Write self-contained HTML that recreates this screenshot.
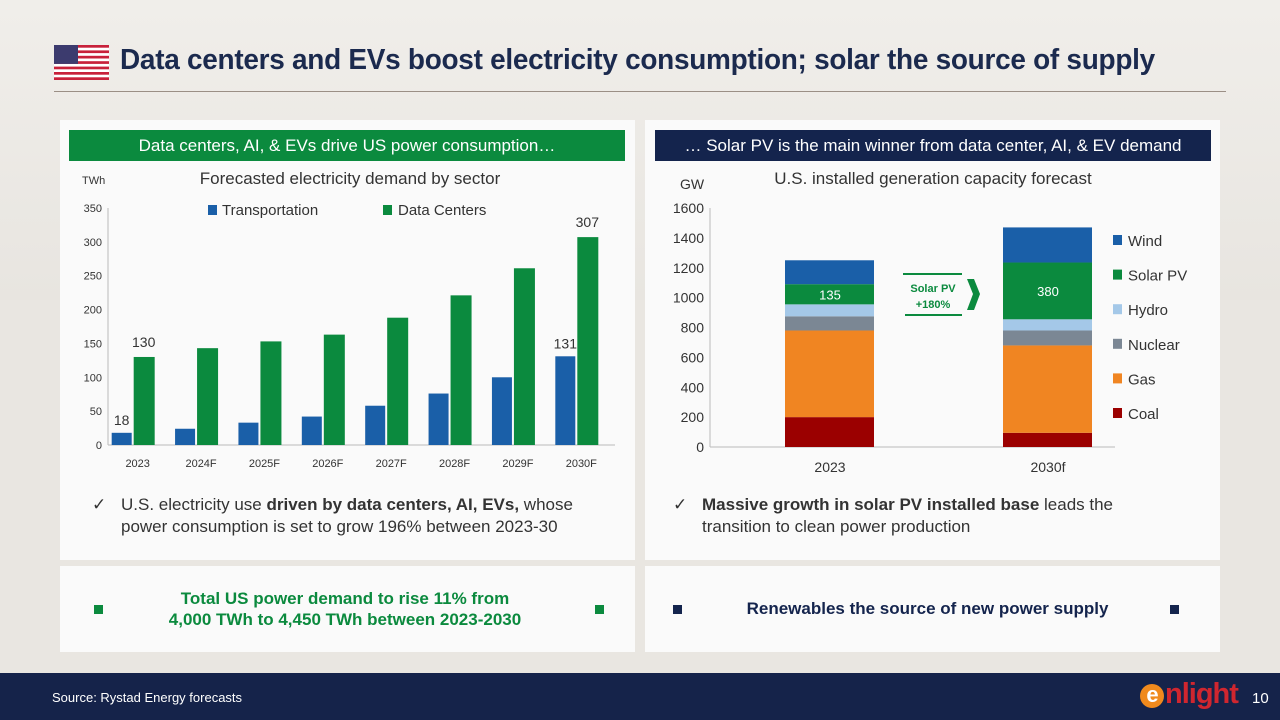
<!DOCTYPE html>
<html><head><meta charset="utf-8"><style>
body{margin:0;width:1280px;height:720px;overflow:hidden;font-family:"Liberation Sans",sans-serif;background:#e9e6e1;position:relative}
.abs{position:absolute}
.panel{position:absolute;background:#fafafa}
.title{left:120px;top:44px;font-size:29px;color:#1b2a4e;font-weight:bold;letter-spacing:-0.3px;transform:scaleX(.965);transform-origin:left;white-space:nowrap}
.hdr{position:absolute;height:31px;line-height:31px;color:#fff;font-size:17px;text-align:center}
.bullet{position:absolute;font-size:17px;color:#333;line-height:22px}
.bt{position:absolute;font-size:17px;font-weight:bold;text-align:center;line-height:21px}
.sq{position:absolute;width:9px;height:9px}
</style></head><body>
<div class="abs" style="left:0;top:0;width:1280px;height:300px;background:linear-gradient(#f0eeea,#e8e5e0)"></div>
<svg class="abs" style="left:54px;top:45px" width="55" height="35" viewBox="0 0 55 35">
<rect width="55" height="35" fill="#fff"/>
<g fill="#c8213a"><rect y="0" width="55" height="2.7"/><rect y="5.4" width="55" height="2.7"/><rect y="10.8" width="55" height="2.7"/><rect y="16.2" width="55" height="2.7"/><rect y="21.6" width="55" height="2.7"/><rect y="27" width="55" height="2.7"/><rect y="32.3" width="55" height="2.7"/></g>
<rect width="24" height="18.9" fill="#3c3b6e"/></svg>
<div class="abs title">Data centers and EVs boost electricity consumption; solar the source of supply</div>
<div class="abs" style="left:54px;top:91px;width:1172px;height:1px;background:#9b8f86"></div>

<div class="panel" style="left:60px;top:120px;width:575px;height:440px"></div>
<div class="panel" style="left:645px;top:120px;width:575px;height:440px"></div>
<div class="panel" style="left:60px;top:566px;width:575px;height:86px"></div>
<div class="panel" style="left:645px;top:566px;width:575px;height:86px"></div>

<div class="hdr" style="left:69px;top:130px;width:556px;background:#0b8a3e">Data centers, AI, &amp; EVs drive US power consumption…</div>
<div class="hdr" style="left:655px;top:130px;width:556px;background:#14244d">… Solar PV is the main winner from data center, AI, &amp; EV demand</div>

<svg class="abs" id="lc" style="left:60px;top:160px" width="575" height="320"></svg>
<svg class="abs" id="rc" style="left:645px;top:160px" width="575" height="320"></svg>

<div class="bullet" style="left:95px;top:494px;width:520px"><span style="position:absolute;left:-3px">✓</span><div style="margin-left:26px">U.S. electricity use <b>driven by data centers, AI, EVs,</b> whose power consumption is set to grow 196% between 2023-30</div></div>
<div class="bullet" style="left:674px;top:494px;width:470px"><span style="position:absolute;left:-1px">✓</span><div style="margin-left:28px"><b>Massive growth in solar PV installed base</b> leads the transition to clean power production</div></div>

<div class="sq" style="left:94px;top:605px;background:#0b8a3e"></div>
<div class="bt" style="left:130px;top:588px;width:430px;color:#0b8a3e">Total US power demand to rise 11% from<br>4,000 TWh to 4,450 TWh between 2023-2030</div>
<div class="sq" style="left:595px;top:605px;background:#0b8a3e"></div>
<div class="sq" style="left:673px;top:605px;background:#14244d"></div>
<div class="bt" style="left:700px;top:598px;width:455px;color:#14244d">Renewables the source of new power supply</div>
<div class="sq" style="left:1170px;top:605px;background:#14244d"></div>

<div class="abs" style="left:0;top:673px;width:1280px;height:47px;background:#15234a"></div>
<div class="abs" style="left:52px;top:690px;font-size:13px;color:#fff">Source: Rystad Energy forecasts</div>
<div class="abs" style="left:1140px;top:677px;font-size:29px;font-weight:bold;color:#d0262f;letter-spacing:-1px;line-height:34px"><span style="display:inline-block;width:24px;height:24px;border-radius:50%;background:#f08a1d;color:#fff;font-size:22px;line-height:22px;text-align:center;vertical-align:1px;margin-right:1px">e</span>nlight</div>
<div class="abs" style="left:1252px;top:690px;font-size:15px;color:#fff">10</div>

<script>
const NS='http://www.w3.org/2000/svg';
function mk(p,t,a,txt){const e=document.createElementNS(NS,t);for(const k in a)e.setAttribute(k,a[k]);if(txt!==undefined)e.textContent=txt;p.appendChild(e);return e;}
// Left chart data
const years=['2023','2024F','2025F','2026F','2027F','2028F','2029F','2030F'];
const transport=[18,24,33,42,58,76,100,131];
const dataCenters=[130,143,153,163,188,221,261,307];
const leftTicks=[0,50,100,150,200,250,300,350];
const transportLabels={0:'18',7:'131'};
const dcLabels={0:'130',7:'307'};
// Right chart data
const periods=['2023','2030f'];
const sources=['Coal','Gas','Nuclear','Hydro','Solar PV','Wind'];
const colors=['#9b0000','#f08522','#7b8794','#a4c8e8','#0b8a3e','#1a5fa8'];
const cap2023=[200,580,95,80,135,160];
const cap2030=[95,585,100,75,380,235];
const rightTicks=[0,200,400,600,800,1000,1200,1400,1600];

(function(){
const s=document.getElementById('lc');
const x0=48,x1=555,y0=285,yT=48;
const y=v=>y0-(y0-yT)*v/350;
const bw=(x1-x0)/years.length;
mk(s,'text',{x:22,y:24,'font-size':11,fill:'#333'},'TWh');
mk(s,'text',{x:290,y:24,'font-size':17,fill:'#333','text-anchor':'middle'},'Forecasted electricity demand by sector');
mk(s,'line',{x1:x0,y1:yT,x2:x0,y2:y0,stroke:'#bbb'});
mk(s,'line',{x1:x0,y1:y0,x2:x1,y2:y0,stroke:'#bbb'});
leftTicks.forEach(t=>{const e=mk(s,'text',{x:42,y:y(t)+4,'font-size':11,fill:'#333','text-anchor':'end'},t);});
let r=mk(s,'rect',{x:148,y:45,width:9,height:10,fill:'#1a5fa8'});
mk(s,'text',{x:162,y:55,'font-size':15,fill:'#333'},'Transportation');
r=mk(s,'rect',{x:323,y:45,width:9,height:10,fill:'#0b8a3e'});
mk(s,'text',{x:338,y:55,'font-size':15,fill:'#333'},'Data Centers');
years.forEach((yr,i)=>{
 const c=x0+bw*(i+0.5);
 let b=mk(s,'rect',{x:c-28,y:y(transport[i]),width:20,height:y0-y(transport[i]),fill:'#1a5fa8'});
 
 b=mk(s,'rect',{x:c-6,y:y(dataCenters[i]),width:21,height:y0-y(dataCenters[i]),fill:'#0b8a3e'});
 
 const l=mk(s,'text',{x:c-2,y:307,'font-size':11,fill:'#333','text-anchor':'middle'},yr);
 
 if(transportLabels[i])mk(s,'text',{x:c-18,y:y(transport[i])-8,'font-size':14,fill:'#333','text-anchor':'middle'},transportLabels[i]);
 if(dcLabels[i])mk(s,'text',{x:c+4,y:y(dataCenters[i])-10,'font-size':14,fill:'#333','text-anchor':'middle'},dcLabels[i]);
});
})();

(function(){
const s=document.getElementById('rc');
const x0=65,x1=470,y0=287,yT=48;
const y=v=>y0-(y0-yT)*v/1600;
mk(s,'text',{x:35,y:29,'font-size':14,fill:'#333'},'GW');
mk(s,'text',{x:288,y:24,'font-size':17,fill:'#333','text-anchor':'middle'},'U.S. installed generation capacity forecast');
mk(s,'line',{x1:x0,y1:yT,x2:x0,y2:y0,stroke:'#bbb'});
mk(s,'line',{x1:x0,y1:y0,x2:x1,y2:y0,stroke:'#bbb'});
rightTicks.forEach(t=>{const e=mk(s,'text',{x:59,y:y(t)+5,'font-size':14,fill:'#333','text-anchor':'end'},t);});
const centers=[185,403];
[cap2023,cap2030].forEach((vals,i)=>{
 let acc=0;
 vals.forEach((v,j)=>{
  const b=mk(s,'rect',{x:centers[i]-45,y:y(acc+v),width:89,height:y(acc)-y(acc+v),fill:colors[j]});
  
  
  if(sources[j]==='Solar PV')mk(s,'text',{x:centers[i],y:(y(acc)+y(acc+v))/2+5,'font-size':13,fill:'#fff','text-anchor':'middle'},v);
  acc+=v;
 });
 const l=mk(s,'text',{x:centers[i],y:312,'font-size':14,fill:'#333','text-anchor':'middle'},periods[i]);
 
});
sources.forEach((src,j)=>{
 const ly=255-j*34.6;
 const r=mk(s,'rect',{x:468,y:ly-7,width:9,height:10,fill:colors[j]});
 
 
 mk(s,'text',{x:483,y:ly+4,'font-size':15,fill:'#333'},src);
});
mk(s,'line',{x1:258,y1:114,x2:317,y2:114,stroke:'#0b8a3e','stroke-width':2});
mk(s,'line',{x1:260,y1:155,x2:317,y2:155,stroke:'#0b8a3e','stroke-width':2});
mk(s,'text',{x:288,y:132,'font-size':11,'font-weight':'bold',fill:'#0b8a3e','text-anchor':'middle'},'Solar PV');
mk(s,'text',{x:288,y:148,'font-size':11,'font-weight':'bold',fill:'#0b8a3e','text-anchor':'middle'},'+180%');
mk(s,'path',{d:'M322 119 L329 119 L335 134 L329 150 L322 150 L328 134 Z',fill:'#0b8a3e'});
})();
</script>
</body></html>
